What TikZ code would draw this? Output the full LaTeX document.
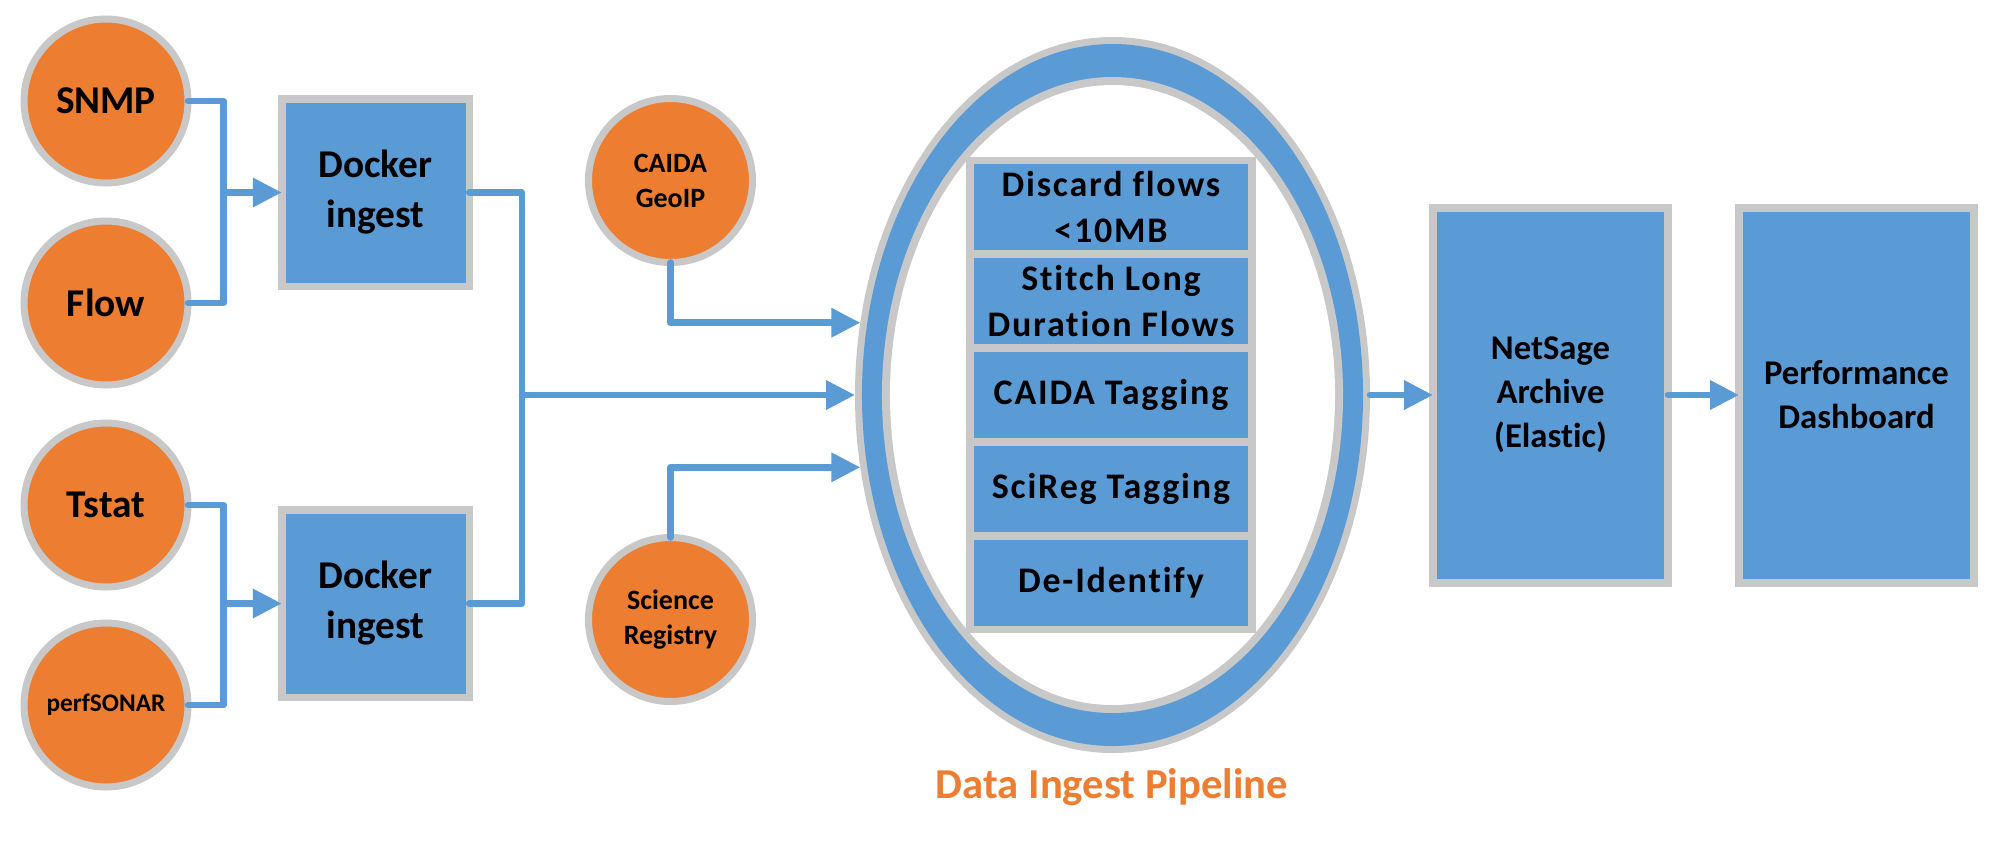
\documentclass[tikz,border=0pt]{standalone}
\usepackage{fontspec}
\setmainfont{Carlito}[Ligatures=CommonOff]
\usetikzlibrary{arrows.meta,shapes.geometric,calc}
\definecolor{myorange}{HTML}{ED7D31}
\definecolor{myblue}{HTML}{5B9BD5}
\definecolor{mygray}{HTML}{C8C8C8}
\tikzset{
 src/.style={circle, fill=myorange, draw=mygray, line width=5.25pt, minimum size=123pt, inner sep=0pt, outer sep=0pt, align=center, text=black},
 bigsrc/.style={src, font=\bfseries\fontsize{29.5pt}{36pt}\selectfont},
 smallsrc/.style={src, font=\bfseries\fontsize{21pt}{26.25pt}\selectfont},
 tinysrc/.style={src, font=\bfseries\fontsize{19pt}{23pt}\selectfont},
 dock/.style={rectangle, fill=myblue, draw=mygray, line width=5.6pt, minimum width=140.6pt, minimum height=140.6pt, inner sep=0pt, outer sep=0pt, align=center, font=\bfseries\fontsize{29.5pt}{37.5pt}\selectfont},
 tall/.style={rectangle, fill=myblue, draw=mygray, line width=6pt, minimum width=176.25pt, minimum height=281.25pt, inner sep=0pt, outer sep=0pt, align=center, font=\bfseries\fontsize{26pt}{33pt}\selectfont},
 stage/.style={rectangle, fill=myblue, minimum width=205.5pt, minimum height=64.5pt, inner sep=0pt, align=center, font=\bfseries\fontsize{27pt}{34.5pt}\selectfont\addfontfeatures{LetterSpace=5}},
 conn/.style={draw=myblue, line width=5pt, line cap=round, line join=round},
 arr/.style={conn, -{Triangle[length=21.75pt, width=21pt]}},
}
\begin{document}
\begin{tikzpicture}[x=0.75pt,y=-0.75pt]
\useasboundingbox[fill=white] (0,0) rectangle (1999,844);
% sources
\node[bigsrc] (snmp) at (106,101) {SNMP};
\node[bigsrc] (flow) at (106,303) {Flow};
\node[bigsrc] (tstat) at (106,505) {Tstat};
\node[tinysrc] (ps) at (106,705) {perfSONAR};
% docker
\node[dock] (d1) at (375.5,192.5) {Docker\\ingest};
\node[dock] (d2) at (375.5,603.5) {Docker\\ingest};
% enrichment sources
\node[smallsrc] (cai) at (670.5,180.5) {CAIDA\\GeoIP};
\node[smallsrc] (sci) at (670.5,619.5) {Science\\Registry};
% pipeline ring
\node[ellipse, fill=mygray, minimum width=386.25pt, minimum height=537pt, inner sep=0pt, outer sep=0pt] (pipe) at (1112.5,395) {};
\fill[myblue] (pipe.center) ellipse [x radius=187.9pt, y radius=263.25pt];
\fill[mygray] (pipe.center) ellipse [x radius=172.9pt, y radius=238.5pt];
\fill[white] (pipe.center) ellipse [x radius=166.9pt, y radius=232.5pt];
\node[rectangle, fill=mygray, minimum width=217.5pt, minimum height=357pt, inner sep=0pt] (stack) at (1111,395) {};
\node[stage] (s1) at (1111,207) {Discard flows\\<10MB};
\node[stage] (s2) at (1111,301) {Stitch Long\\Duration Flows};
\node[stage] (s3) at (1111,395) {CAIDA Tagging};
\node[stage] (s4) at (1111,489) {SciReg Tagging};
\node[stage] (s5) at (1111,583) {De-Identify};
\node[font=\bfseries\fontsize{32pt}{38pt}\selectfont, text=myorange, anchor=base, inner sep=0pt] (lbl) at (1112,798) {Data Ingest Pipeline};
% archive and dashboard
\node[tall] (ns) at (1550.5,395) {NetSage\\Archive\\(Elastic)};
\node[tall] (dash) at (1856.5,395) {Performance\\Dashboard};
% connectors
\coordinate (j1) at (223.5,192.5);
\coordinate (j2) at (223.5,603.5);
\coordinate (j3) at (522,395);
\draw[conn] (snmp.east) -| (j1) |- (flow.east);
\draw[arr] (j1) -- (d1.west);
\draw[conn] (tstat.east) -| (j2) |- (ps.east);
\draw[arr] (j2) -- (d2.west);
\draw[conn] (d1.east) -| (j3) |- (d2.east);
\draw[arr] (j3) -- (pipe.west);
\draw[arr] (cai.south) |- (pipe.164);
\draw[arr] (sci.north) |- (pipe.196);
\draw[arr] (pipe.east) -- (ns.west);
\draw[arr] (ns.east) -- (dash.west);
\end{tikzpicture}
\end{document}
